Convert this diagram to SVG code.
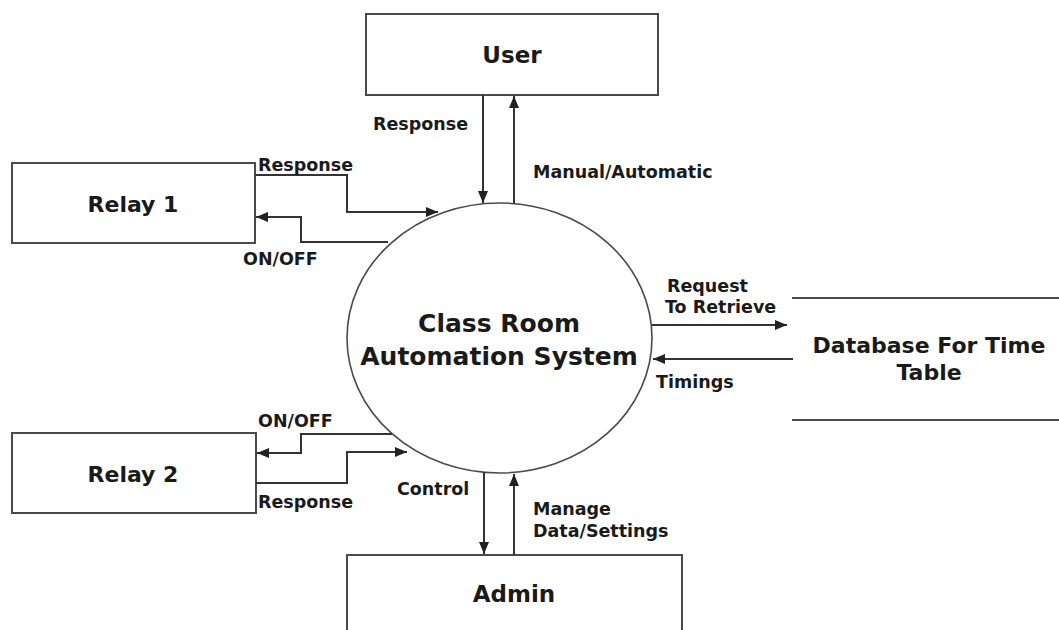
<svg xmlns="http://www.w3.org/2000/svg" width="1059" height="630" viewBox="0 0 1059 630">
  <style>
    .box { fill: #ffffff; stroke: #4a4a4a; stroke-width: 2; }
    .proc { fill: #ffffff; stroke: #4a4a4a; stroke-width: 1.6; }
    .store { stroke: #4a4a4a; stroke-width: 2; fill: none; }
    .flow { fill: none; stroke: #333333; stroke-width: 2; marker-end: url(#arrow); }
    .title { font-family: "DejaVu Sans", sans-serif; font-weight: bold; fill: #1a1a1a; text-anchor: middle; }
    .lbl { font-family: "DejaVu Sans", sans-serif; font-weight: bold; font-size: 17.5px; fill: #1a1a1a; }
  </style>
  <defs>
    <marker id="arrow" markerUnits="userSpaceOnUse" markerWidth="14" markerHeight="12" refX="12" refY="5" orient="auto">
      <path d="M0,0 L12,5 L0,10 Z" fill="#222222"/>
    </marker>
  </defs>
  <rect width="1059" height="630" fill="#ffffff"/>

  <!-- external entities -->
  <g id="user">
    <rect class="box" x="366" y="14" width="292" height="81"/>
    <text class="title" x="512" y="63" font-size="23">User</text>
  </g>
  <g id="relay1">
    <rect class="box" x="12" y="163" width="243" height="80"/>
    <text class="title" x="133" y="212" font-size="22">Relay 1</text>
  </g>
  <g id="relay2">
    <rect class="box" x="12" y="433" width="244" height="80"/>
    <text class="title" x="133" y="482" font-size="22">Relay 2</text>
  </g>
  <g id="admin">
    <rect class="box" x="347" y="555" width="335" height="90"/>
    <text class="title" x="514" y="602" font-size="23">Admin</text>
  </g>

  <!-- data store -->
  <g id="database">
    <line class="store" x1="792" y1="298" x2="1059" y2="298"/>
    <line class="store" x1="792" y1="420" x2="1059" y2="420"/>
    <text class="title" x="929" y="353" font-size="22">Database For Time</text>
    <text class="title" x="929" y="380" font-size="22">Table</text>
  </g>

  <!-- central process -->
  <g id="system">
    <ellipse class="proc" cx="499.5" cy="338" rx="152.5" ry="135"/>
    <text class="title" x="499" y="332" font-size="25">Class Room</text>
    <text class="title" x="499" y="365" font-size="25">Automation System</text>
  </g>

  <!-- data flows -->
  <g id="connectors">
    <path class="flow" d="M483,95 L483,203"/>
    <path class="flow" d="M514,204 L514,96"/>
    <path class="flow" d="M255,175 L347,175 L347,212 L438,212"/>
    <path class="flow" d="M388,242 L301,242 L301,217 L256,217"/>
    <path class="flow" d="M392,434 L301,434 L301,453 L257,453"/>
    <path class="flow" d="M256,483 L347,483 L347,452 L407,452"/>
    <path class="flow" d="M484,472 L484,554"/>
    <path class="flow" d="M514,555 L514,474"/>
    <path class="flow" d="M652,325 L787,325"/>
    <path class="flow" d="M793,359 L653,359"/>
  </g>

  <!-- flow labels -->
  <g id="labels">
    <text class="lbl" x="373" y="130">Response</text>
    <text class="lbl" x="533" y="178">Manual/Automatic</text>
    <text class="lbl" x="258" y="171">Response</text>
    <text class="lbl" x="243" y="265">ON/OFF</text>
    <text class="lbl" x="258" y="427">ON/OFF</text>
    <text class="lbl" x="258" y="508">Response</text>
    <text class="lbl" x="397" y="495">Control</text>
    <text class="lbl" x="533" y="515">Manage</text>
    <text class="lbl" x="533" y="537">Data/Settings</text>
    <text class="lbl" x="667" y="292">Request</text>
    <text class="lbl" x="665" y="313">To Retrieve</text>
    <text class="lbl" x="656" y="388">Timings</text>
  </g>
</svg>
